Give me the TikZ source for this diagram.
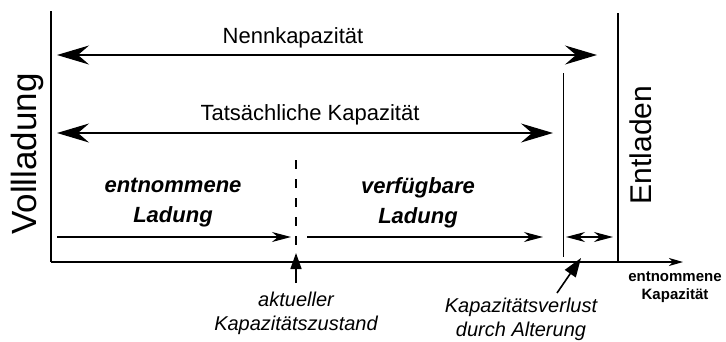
\documentclass[tikz,border=0pt]{standalone}
\usepackage{fontspec}
\setmainfont{Liberation Sans}
\usetikzlibrary{arrows.meta}
\begin{document}
\begin{tikzpicture}[x=1pt,y=-1pt,line width=1.3pt,
  bigtip/.tip={Stealth[length=32pt,width=19pt,inset=11pt]},
  midtip/.tip={Stealth[length=19pt,width=10pt,inset=6pt]},
  smalltip/.tip={Stealth[length=14pt,width=8pt,inset=4pt]},
  pointtip/.tip={Triangle[length=16pt,width=11pt]},
  widepointtip/.tip={Triangle[length=19pt,width=13pt]},
  label/.style={inner sep=0pt,align=center},
  normal/.style={label,font=\fontsize{22}{29}\selectfont},
  side/.style={label,font=\fontsize{30}{36}\selectfont,rotate=90},
  charge/.style={label,font=\fontsize{22}{30}\selectfont\bfseries\itshape},
  note/.style={label,font=\fontsize{20}{24}\selectfont\itshape},
  axislabel/.style={label,font=\fontsize{15}{18}\selectfont\bfseries}]
\useasboundingbox (0,0) rectangle (726,341);

% frame: state-of-charge axis, capacity axis and fully discharged limit
\coordinate (full top) at (51,11);
\coordinate (origin) at (51,262);
\coordinate (axis end) at (683,262);
\coordinate (empty top) at (618,13);
\coordinate (empty bottom) at (618,262);
\coordinate (loss top) at (563,73);
\coordinate (loss bottom) at (563,257);
\draw (full top) -- (origin);
\draw[-{smalltip}] (origin) -- (axis end);
\draw (empty top) -- (empty bottom);
\draw[line width=1pt] (loss top) -- (loss bottom);

% rated and actual capacity
\coordinate (rated l) at (57,55);
\coordinate (rated r) at (597,55);
\coordinate (actual l) at (57,133);
\coordinate (actual r) at (553,133);
\draw[{bigtip}-{bigtip}] (rated l) -- (rated r);
\draw[{bigtip}-{bigtip}] (actual l) -- (actual r);
\node[normal] (rated) at (293,38) {Nennkapazität};
\node[normal] (actual) at (310,115) {Tatsächliche Kapazität};

% current state of charge
\coordinate (state top) at (296,160);
\coordinate (state bottom) at (296,247);
\draw[dash pattern=on 9pt off 10pt] (state top) -- (state bottom);
\coordinate (drawn l) at (57,237);
\coordinate (drawn r) at (291,237);
\coordinate (avail l) at (307,237);
\coordinate (avail r) at (543,237);
\draw[-{midtip}] (drawn l) -- (drawn r);
\draw[-{midtip}] (avail l) -- (avail r);
\coordinate (lost l) at (566,237);
\coordinate (lost r) at (613,237);
\draw[{midtip}-{midtip}] (lost l) -- (lost r);

\node[charge] (drawn) at (173,203) {entnommene\\Ladung};
\node[charge] (avail) at (418,203) {verfügbare\\Ladung};

% annotations below the capacity axis
\node[note] (state) at (296,313) {aktueller\\Kapazitätszustand};
\node[note] (aging) at (521,319) {Kapazitätsverlust\\durch Alterung};
\coordinate (state tip) at (296,253);
\coordinate (aging tip) at (581,258);
\draw[line width=1.6pt,-{pointtip}] (state.north) ++(0,-8) coordinate (state tail) -- (state tip);
\draw[line width=1.6pt,-{widepointtip}] (557,293) coordinate (aging tail) -- (aging tip);

\node[axislabel] (xlabel) at (675,287) {entnommene\\Kapazität};

% end states
\node[side,font=\fontsize{35}{40}\selectfont] (full) at (27,154) {Vollladung};
\node[side] (empty) at (641,145) {Entladen};
\end{tikzpicture}
\end{document}
